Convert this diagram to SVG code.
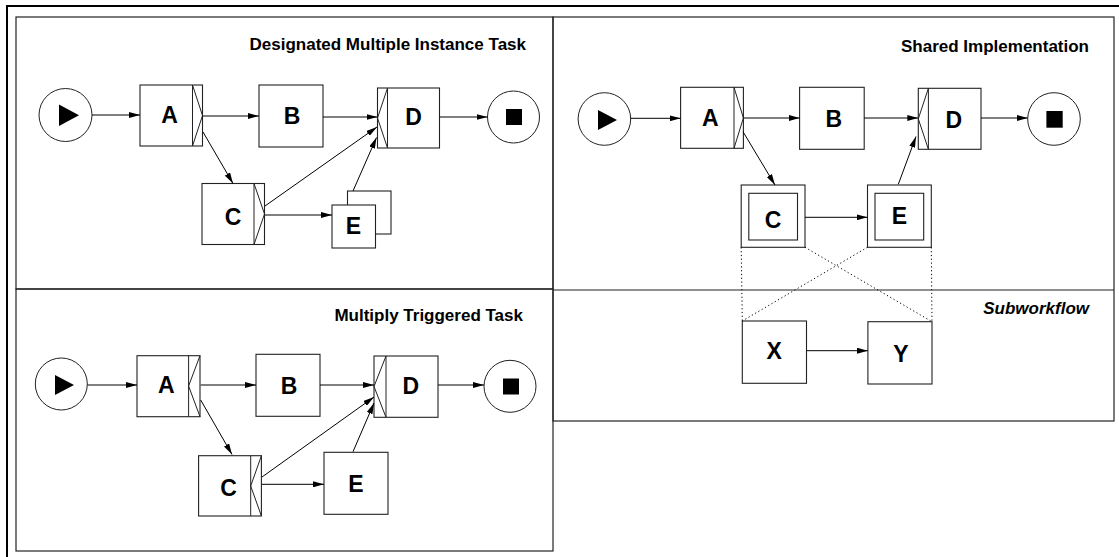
<svg xmlns="http://www.w3.org/2000/svg" width="1119" height="557" viewBox="0 0 1119 557">
<style>
.frame{fill:none;stroke:#000;stroke-width:2}
.panel{fill:none;stroke:#222;stroke-width:1.2}
.box{fill:#fff;stroke:#222;stroke-width:1.1}
.sym{fill:none;stroke:#222;stroke-width:1}
.circ{fill:#fff;stroke:#222;stroke-width:1}
.conn{fill:none;stroke:#000;stroke-width:1;marker-end:url(#ah)}
.dot{fill:none;stroke:#000;stroke-width:1;stroke-dasharray:1.2 2.6}
.lbl{font-family:"Liberation Sans",Arial,sans-serif;font-weight:bold;font-size:23px;text-anchor:middle;fill:#000}
.title{font-family:"Liberation Sans",Arial,sans-serif;font-weight:bold;font-size:17px;text-anchor:end;fill:#000}
.it{font-style:italic}
</style>
<defs>
<marker id="ah" markerUnits="userSpaceOnUse" markerWidth="11" markerHeight="6" refX="11" refY="3" orient="auto">
<path d="M0,0 L11,3 L0,6 z" fill="#000"/>
</marker>
</defs>

<path class="frame" d="M7,557 V6 H1119"/>

<g id="panels">
<rect class="panel" x="16" y="17" width="537" height="272"/>
<rect class="panel" x="16" y="289" width="537" height="262"/>
<rect class="panel" x="553" y="17" width="561" height="404"/>
<line class="panel" x1="553" y1="290" x2="1114" y2="290"/>
<text class="title" x="526" y="50">Designated Multiple Instance Task</text>
<text class="title" x="523" y="321">Multiply Triggered Task</text>
<text class="title" x="1089" y="52">Shared Implementation</text>
<text class="title it" x="1089" y="314">Subworkflow</text>
</g>

<!-- Panel 1: Designated Multiple Instance Task -->
<g id="p1-start"><circle class="circ" cx="65.5" cy="115" r="26.5"/><path d="M59,104.5 L59,126 L79,115.3 z" fill="#000"/></g>
<g id="p1-A"><rect class="box" x="140" y="85" width="62.5" height="61"/><line class="sym" x1="192.5" y1="85" x2="192.5" y2="146"/><polyline class="sym" points="192.5,85 202.5,115.5 192.5,146"/><text class="lbl" x="169.5" y="123">A</text></g>
<g id="p1-B"><rect class="box" x="259" y="85" width="64" height="62"/><text class="lbl" x="292" y="124">B</text></g>
<g id="p1-D"><rect class="box" x="377.5" y="88" width="62" height="60"/><line class="sym" x1="387.5" y1="88" x2="387.5" y2="148"/><polyline class="sym" points="387.5,88 377.5,118 387.5,148"/><text class="lbl" x="413.5" y="125">D</text></g>
<g id="p1-end"><circle class="circ" cx="513.5" cy="117" r="26"/><rect x="506" y="109" width="16" height="16" fill="#000"/></g>
<g id="p1-C"><rect class="box" x="202" y="183.5" width="62.5" height="61"/><line class="sym" x1="254" y1="183.5" x2="254" y2="244.5"/><polyline class="sym" points="254,183.5 264.5,214 254,244.5"/><text class="lbl" x="233" y="225">C</text></g>
<g id="p1-E"><rect class="box" x="347.5" y="191" width="43.5" height="43"/><rect class="box" x="332" y="205" width="43.5" height="43"/><text class="lbl" x="353.5" y="234">E</text></g>

<!-- Panel 2: Multiply Triggered Task -->
<g id="p2-start"><circle class="circ" cx="61.3" cy="384" r="26"/><path d="M55,375 L55,395 L74,385 z" fill="#000"/></g>
<g id="p2-A"><rect class="box" x="137" y="355.7" width="63" height="61"/><line class="sym" x1="188.6" y1="355.7" x2="188.6" y2="416.7"/><polyline class="sym" points="200,355.7 188.6,386 200,416.7"/><text class="lbl" x="166.4" y="393">A</text></g>
<g id="p2-B"><rect class="box" x="256" y="354.3" width="64" height="62"/><text class="lbl" x="289" y="394">B</text></g>
<g id="p2-D"><rect class="box" x="374" y="356" width="64" height="61.3"/><line class="sym" x1="386" y1="356" x2="386" y2="417.3"/><polyline class="sym" points="386,356 374,386.5 386,417.3"/><text class="lbl" x="410.7" y="394">D</text></g>
<g id="p2-end"><circle class="circ" cx="510" cy="386.3" r="26"/><rect x="503" y="378.5" width="16" height="16" fill="#000"/></g>
<g id="p2-C"><rect class="box" x="198.6" y="455.7" width="62.8" height="60.3"/><line class="sym" x1="250.7" y1="455.7" x2="250.7" y2="516"/><polyline class="sym" points="261.4,455.7 250.7,486 261.4,516"/><text class="lbl" x="228.6" y="496">C</text></g>
<g id="p2-E"><rect class="box" x="324" y="452.3" width="64" height="62"/><text class="lbl" x="356" y="492">E</text></g>

<!-- Panel 3: Shared Implementation -->
<g id="p3-start"><circle class="circ" cx="604.4" cy="119" r="26.3"/><path d="M598,110 L598,130 L617,120 z" fill="#000"/></g>
<g id="p3-A"><rect class="box" x="680.6" y="87.3" width="62.8" height="61"/><line class="sym" x1="734" y1="87.3" x2="734" y2="148.3"/><polyline class="sym" points="734,87.3 743.4,118 734,148.3"/><text class="lbl" x="710.4" y="126">A</text></g>
<g id="p3-B"><rect class="box" x="799.6" y="87.3" width="64.6" height="62"/><text class="lbl" x="833.7" y="126.7">B</text></g>
<g id="p3-D"><rect class="box" x="918.3" y="88.3" width="62.7" height="61"/><line class="sym" x1="928.4" y1="88.3" x2="928.4" y2="149.3"/><polyline class="sym" points="928.4,88.3 918.3,118.8 928.4,149.3"/><text class="lbl" x="953.8" y="127.7">D</text></g>
<g id="p3-end"><circle class="circ" cx="1054" cy="119" r="26.3"/><rect x="1046.4" y="111" width="16.3" height="16.7" fill="#000"/></g>
<g id="p3-C"><rect class="box" x="741.2" y="185" width="63.8" height="62.3"/><rect class="box" x="748.8" y="193.3" width="48.7" height="46.7"/><text class="lbl" x="773" y="228.3">C</text></g>
<g id="p3-E"><rect class="box" x="867.5" y="185" width="63.8" height="62.3"/><rect class="box" x="875" y="193.3" width="48.7" height="46.7"/><text class="lbl" x="899.4" y="224">E</text></g>
<g id="p3-X"><rect class="box" x="742.3" y="321" width="64.2" height="62.3"/><text class="lbl" x="774.2" y="359.3">X</text></g>
<g id="p3-Y"><rect class="box" x="867.9" y="321.7" width="64.1" height="62.3"/><text class="lbl" x="900.9" y="361.7">Y</text></g>

<g id="connectors">
<line class="conn" x1="92" y1="115" x2="140" y2="115"/>
<line class="conn" x1="202.5" y1="116" x2="259" y2="116"/>
<line class="conn" x1="323" y1="117" x2="377.5" y2="117"/>
<line class="conn" x1="439.5" y1="117" x2="487.5" y2="117"/>
<line class="conn" x1="203" y1="132" x2="233" y2="183.5"/>
<line class="conn" x1="265" y1="206" x2="377" y2="127"/>
<line class="conn" x1="265" y1="215" x2="332" y2="215"/>
<line class="conn" x1="353" y1="191" x2="376.5" y2="137.5"/>

<line class="conn" x1="87.5" y1="385" x2="137" y2="385"/>
<line class="conn" x1="200.7" y1="385" x2="256" y2="385"/>
<line class="conn" x1="320" y1="385" x2="374" y2="385"/>
<line class="conn" x1="438" y1="385" x2="484" y2="385"/>
<line class="conn" x1="200.7" y1="400" x2="232" y2="454.5"/>
<line class="conn" x1="262" y1="477" x2="374" y2="397"/>
<line class="conn" x1="262" y1="484.3" x2="324" y2="484.3"/>
<line class="conn" x1="353" y1="451.7" x2="374" y2="403"/>

<line class="conn" x1="630.7" y1="118.3" x2="680.6" y2="118.3"/>
<line class="conn" x1="743.4" y1="118" x2="799.6" y2="118"/>
<line class="conn" x1="864.2" y1="118" x2="918.3" y2="118"/>
<line class="conn" x1="981" y1="118" x2="1027.7" y2="118"/>
<line class="conn" x1="743" y1="131.7" x2="775" y2="185"/>
<line class="conn" x1="805" y1="217.3" x2="867.5" y2="217.3"/>
<line class="conn" x1="898.3" y1="184.3" x2="916" y2="136.5"/>
<line class="conn" x1="806.5" y1="350.7" x2="867.9" y2="350.7"/>

<line class="dot" x1="741.2" y1="247.3" x2="742.3" y2="321"/>
<line class="dot" x1="931.3" y1="247.3" x2="932" y2="321.7"/>
<line class="dot" x1="805" y1="247.3" x2="932" y2="321.7"/>
<line class="dot" x1="867.5" y1="247.3" x2="742.3" y2="321"/>
</g>
</svg>
